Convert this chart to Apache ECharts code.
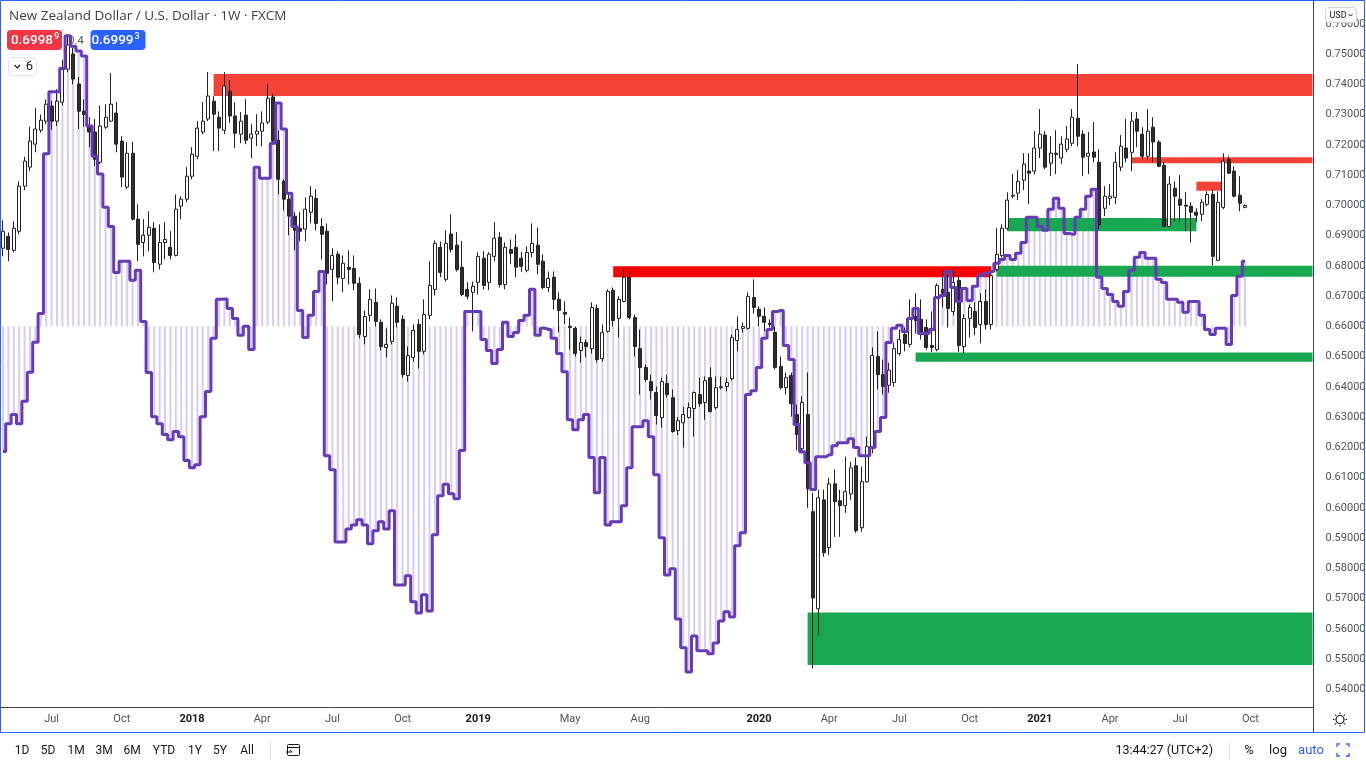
<!DOCTYPE html>
<html>
<head>
<meta charset="utf-8">
<script src="https://cdn.jsdelivr.net/npm/echarts@6/dist/echarts.min.js"></script>
<style>
html,body{margin:0;padding:0;background:#ffffff;}
#chart{width:1366px;height:768px;}
</style>
</head>
<body>
<div id="chart"></div>
<script>
// ---------- DATA ----------
const firstWeek = '2017-05-01';      // Monday of the first weekly bar
const weeksOnAxis = 243;             // bars + empty future weeks on the time scale

const open = [
.6858,.6897,.6851,.6914,.7063,.7126,.7202,.7248,.7278,.7328,
.7278,.7341,.7450,.7500,.7401,.7311,.7262,.7242,.7142,.7258,
.7278,.7305,.7212,.7060,.7172,.6954,.6877,.6901,.6924,.6805,
.6877,.6861,.6834,.6997,.7020,.7096,.7162,.7242,.7285,.7344,
.7291,.7248,.7377,.7295,.7235,.7298,.7222,.7235,.7245,.7275,
.7358,.7215,.7079,.7020,.6964,.6924,.6921,.6977,.7023,.6930,
.6914,.6788,.6838,.6758,.6795,.6791,.6742,.6566,.6636,.6679,
.6613,.6530,.6550,.6666,.6623,.6437,.6497,.6606,.6517,.6636,
.6722,.6861,.6755,.6905,.6868,.6795,.6722,.6712,.6745,.6825,
.6745,.6831,.6894,.6738,.6854,.6861,.6825,.6785,.6844,.6868,
.6815,.6728,.6762,.6689,.6646,.6600,.6593,.6520,.6546,.6526,
.6659,.6493,.6583,.6719,.6626,.6682,.6762,.6629,.6526,.6464,
.6417,.6381,.6298,.6411,.6364,.6255,.6281,.6298,.6328,.6374,
.6348,.6430,.6331,.6397,.6401,.6427,.6553,.6593,.6593,.6695,
.6656,.6633,.6610,.6580,.6467,.6397,.6437,.6308,.6195,.6308,
.5987,.5666,.6026,.5868,.6079,.6023,.6007,.6046,.6139,.5934,
.6086,.6200,.6500,.6440,.6405,.6414,.6510,.6573,.6540,.6632,
.6623,.6596,.6536,.6523,.6722,.6712,.6649,.6752,.6533,.6626,
.6649,.6606,.6682,.6606,.6788,.6834,.6924,.7030,.7040,.7083,
.7113,.7113,.7189,.7232,.7139,.7172,.7156,.7185,.7205,.7288,
.7235,.7162,.7176,.7142,.6990,.7023,.7026,.7126,.7189,.7175,
.7285,.7235,.7162,.7258,.7209,.7132,.6930,.7056,.7020,.7000,
.6997,.6977,.6970,.7003,.7036,.6818,.6993,.7152,.7113,.7033,
.6993];

const high = [
.6950,.6910,.6947,.7079,.7160,.7260,.7321,.7300,.7350,.7345,
.7384,.7480,.7558,.7520,.7424,.7350,.7291,.7285,.7330,.7334,
.7437,.7341,.7228,.7209,.7209,.7003,.6954,.6980,.6944,.6937,
.6944,.6914,.7036,.7030,.7126,.7192,.7278,.7341,.7440,.7361,
.7310,.7440,.7414,.7340,.7308,.7351,.7268,.7301,.7310,.7401,
.7369,.7248,.7086,.7043,.6977,.6977,.7026,.7063,.7053,.6957,
.6940,.6858,.6848,.6834,.6851,.6834,.6762,.6652,.6722,.6725,
.6623,.6593,.6702,.6695,.6636,.6533,.6606,.6623,.6689,.6815,
.6884,.6880,.6917,.6970,.6911,.6881,.6745,.6748,.6844,.6848,
.6845,.6944,.6911,.6877,.6887,.6904,.6845,.6864,.6940,.6927,
.6838,.6781,.6781,.6712,.6682,.6629,.6599,.6566,.6556,.6679,
.6672,.6606,.6722,.6728,.6699,.6795,.6781,.6639,.6589,.6474,
.6440,.6401,.6430,.6440,.6391,.6300,.6334,.6348,.6384,.6430,
.6434,.6464,.6434,.6434,.6430,.6573,.6632,.6613,.6712,.6755,
.6666,.6662,.6623,.6600,.6500,.6447,.6447,.6341,.6368,.6447,
.6050,.6060,.6060,.6099,.6126,.6060,.6169,.6152,.6166,.6136,
.6235,.6530,.6583,.6490,.6480,.6546,.6589,.6596,.6689,.6709,
.6689,.6623,.6649,.6742,.6785,.6768,.6795,.6775,.6640,.6672,
.6679,.6709,.6722,.6788,.6924,.6937,.7043,.7103,.7116,.7172,
.7172,.7245,.7318,.7245,.7228,.7248,.7228,.7262,.7318,.7467,
.7248,.7242,.7275,.7185,.7063,.7070,.7175,.7232,.7285,.7308,
.7308,.7258,.7318,.7291,.7215,.7142,.7096,.7079,.7100,.7043,
.7010,.6990,.7020,.7046,.7053,.7046,.7172,.7162,.7129,.7096,
.7003];

const low = [
.6831,.6815,.6844,.6904,.7050,.7113,.7175,.7240,.7268,.7250,
.7262,.7330,.7440,.7400,.7252,.7260,.7192,.7129,.7136,.7252,
.7275,.7175,.7060,.7053,.6950,.6815,.6831,.6848,.6778,.6788,
.6821,.6821,.6831,.6954,.7010,.7086,.7152,.7235,.7278,.7179,
.7179,.7235,.7272,.7189,.7205,.7202,.7156,.7195,.7195,.7268,
.7200,.7036,.6983,.6901,.6851,.6881,.6881,.6940,.6917,.6821,
.6738,.6682,.6738,.6712,.6738,.6719,.6560,.6540,.6616,.6599,
.6520,.6497,.6540,.6596,.6430,.6417,.6483,.6460,.6507,.6623,
.6702,.6762,.6748,.6844,.6781,.6699,.6689,.6583,.6705,.6722,
.6720,.6815,.6728,.6722,.6805,.6762,.6780,.6778,.6828,.6772,
.6722,.6712,.6656,.6580,.6606,.6523,.6500,.6480,.6497,.6510,
.6480,.6483,.6579,.6599,.6563,.6679,.6623,.6500,.6374,.6417,
.6358,.6275,.6265,.6364,.6248,.6240,.6199,.6295,.6235,.6334,
.6291,.6315,.6325,.6391,.6385,.6420,.6517,.6579,.6589,.6642,
.6600,.6583,.6596,.6457,.6391,.6374,.6301,.6190,.6180,.6000,
.5469,.5579,.5838,.5844,.5904,.5904,.5983,.6026,.5917,.5921,
.6083,.6180,.6391,.6374,.6380,.6400,.6503,.6517,.6530,.6576,
.6556,.6523,.6515,.6517,.6662,.6596,.6636,.6515,.6510,.6563,
.6570,.6543,.6589,.6589,.6781,.6828,.6917,.7023,.7017,.7050,
.7003,.7103,.7156,.7119,.7096,.7103,.7136,.7175,.7195,.7195,
.7096,.7103,.7142,.6920,.6964,.7000,.7003,.7113,.7142,.7113,
.7192,.7152,.7152,.7142,.7126,.6927,.6927,.6947,.6944,.6914,
.6877,.6944,.6947,.6997,.6801,.6815,.6987,.7103,.7026,.6980,
.6990];

const close = [
.6914,.6854,.6924,.7063,.7146,.7212,.7252,.7281,.7334,.7278,
.7344,.7450,.7530,.7417,.7311,.7300,.7242,.7152,.7262,.7291,
.7334,.7202,.7093,.7172,.6954,.6871,.6901,.6927,.6811,.6877,
.6887,.6834,.6987,.7020,.7096,.7169,.7255,.7278,.7361,.7301,
.7255,.7394,.7295,.7238,.7278,.7215,.7235,.7245,.7272,.7354,
.7212,.7086,.7020,.6964,.6917,.6914,.6987,.7030,.6940,.6904,
.6775,.6834,.6762,.6808,.6788,.6742,.6573,.6632,.6689,.6616,
.6533,.6540,.6676,.6613,.6440,.6503,.6586,.6517,.6639,.6735,
.6874,.6778,.6874,.6854,.6788,.6705,.6699,.6732,.6831,.6735,
.6838,.6891,.6738,.6861,.6841,.6795,.6798,.6844,.6874,.6805,
.6728,.6758,.6689,.6652,.6640,.6596,.6510,.6546,.6533,.6662,
.6490,.6579,.6715,.6619,.6689,.6762,.6629,.6533,.6464,.6424,
.6387,.6305,.6417,.6374,.6252,.6288,.6308,.6331,.6381,.6344,
.6420,.6318,.6397,.6400,.6414,.6563,.6589,.6599,.6699,.6662,
.6633,.6613,.6606,.6464,.6397,.6430,.6344,.6242,.6348,.6063,
.5702,.6033,.5851,.6079,.6020,.6007,.6053,.6132,.5924,.6086,
.6202,.6503,.6440,.6401,.6455,.6526,.6556,.6543,.6629,.6619,
.6576,.6530,.6530,.6735,.6709,.6659,.6745,.6536,.6626,.6662,
.6596,.6682,.6606,.6768,.6838,.6924,.7017,.7033,.7079,.7136,
.7106,.7189,.7235,.7126,.7172,.7168,.7202,.7219,.7291,.7228,
.7159,.7172,.7159,.6935,.7030,.7030,.7142,.7195,.7156,.7278,
.7245,.7162,.7245,.7209,.7129,.6930,.7070,.7030,.7000,.6997,
.6977,.6967,.7010,.7036,.6831,.7010,.7146,.7106,.7030,.7007,
.6999];

// purple stepped indicator, drawn on the price scale, with hatch to its base level
const oscillator = [
.6186,.6278,.6308,.6278,.6352,.6448,.6547,.6642,.7170,.7375,
.7375,.7452,.7560,.7526,.7510,.7493,.7262,.7162,.7103,.6993,
.6930,.6778,.6815,.6815,.6752,.6785,.6616,.6447,.6301,.6278,
.6242,.6225,.6252,.6235,.6156,.6132,.6142,.6301,.6384,.6560,
.6689,.6690,.6659,.6626,.6570,.6600,.6523,.7126,.7089,.7089,
.7205,.7338,.7252,.7040,.6930,.6652,.6563,.6636,.6715,.6781,
.6172,.6126,.5887,.5887,.5930,.5943,.5960,.5943,.5881,.5924,
.5954,.5930,.5990,.5745,.5745,.5775,.5689,.5652,.5712,.5659,
.5911,.6040,.6078,.6046,.6030,.6189,.6649,.6649,.6649,.6556,
.6520,.6477,.6523,.6613,.6566,.6579,.6619,.6636,.6722,.6570,
.6593,.6589,.6560,.6510,.6450,.6291,.6258,.6291,.6308,.6166,
.6050,.6166,.5943,.5954,.5954,.6007,.6132,.6268,.6268,.6288,
.6235,.6109,.5901,.5778,.5798,.5632,.5537,.5457,.5576,.5527,
.5527,.5517,.5553,.5626,.5656,.5639,.5874,.5917,.6374,.6387,
.6464,.6560,.6589,.6649,.6652,.6536,.6490,.6275,.6185,.6149,
.6060,.6169,.6169,.6175,.6205,.6215,.6215,.6228,.6199,.6172,
.6172,.6199,.6252,.6298,.6546,.6593,.6603,.6583,.6626,.6659,
.6576,.6576,.6589,.6695,.6702,.6781,.6728,.6682,.6725,.6685,
.6732,.6768,.6775,.6781,.6808,.6821,.6834,.6821,.6841,.6877,
.6960,.6960,.6930,.6917,.6987,.7023,.6990,.6907,.6904,.6960,
.6987,.7030,.7053,.6762,.6725,.6705,.6682,.6666,.6715,.6785,
.6828,.6844,.6825,.6825,.6755,.6745,.6689,.6689,.6679,.6646,
.6682,.6682,.6636,.6589,.6573,.6593,.6593,.6540,.6702,.6765,
.6815];
const oscillatorBase = 0.66;

const tickLabels = [
['2017-07-03','Jul'],['2017-10-02','Oct'],['2018-01-01','2018'],['2018-04-02','Apr'],
['2018-07-02','Jul'],['2018-10-01','Oct'],['2019-01-07','2019'],['2019-05-06','May'],
['2019-08-05','Aug'],['2020-01-06','2020'],['2020-04-06','Apr'],['2020-07-06','Jul'],
['2020-10-05','Oct'],['2021-01-04','2021'],['2021-04-05','Apr'],['2021-07-05','Jul'],
['2021-10-04','Oct']];

const priceMin = 0.53, priceMax = 0.77, priceStep = 0.01;

// zones: from-week, to-week (null = extends to the right edge), low, high
const resistanceZones = [
  ['2018-01-29', null, 0.7361, 0.7434],
  ['2021-05-03', null, 0.7139, 0.7159],
  ['2021-07-26', '2021-08-30', 0.7048, 0.7078]
];
const keyResistanceZones = [
  ['2019-07-01', '2020-11-02', 0.6762, 0.6798]
];
const supportZones = [
  ['2020-11-23', '2021-07-26', 0.6914, 0.6958],
  ['2020-11-09', null, 0.6764, 0.6800],
  ['2020-07-27', null, 0.6483, 0.6513],
  ['2020-03-09', null, 0.5480, 0.5654]
];

// ---------- BUILD ----------
const categories = [];
{
  const p = firstWeek.split('-').map(Number);
  const t0 = Date.UTC(p[0], p[1]-1, p[2]);
  for (let i = 0; i < weeksOnAxis; i++) {
    categories.push(new Date(t0 + i*7*86400000).toISOString().slice(0,10));
  }
}
const labelMap = {};
tickLabels.forEach(t => { labelMap[t[0]] = t[1]; });

const candleData = open.map((o,i) => [o, close[i], low[i], high[i]]);
const hatchData = oscillator.map((v,i) => [i, v]);

function zoneRows(list){
  return list.map(z => [categories.indexOf(z[0]), z[1] ? categories.indexOf(z[1]) : -1, z[2], z[3]]);
}
function zoneSeries(list, color){
  return {
    type:'custom', z:2, silent:true, clip:false,
    encode:{x:0, y:2},
    data: zoneRows(list),
    renderItem: function(params, api){
      const s = api.value(0), e = api.value(1), lo = api.value(2), hi = api.value(3);
      const a = api.coord([s, hi]);
      const b = api.coord([e < 0 ? s : e, lo]);
      const cs = params.coordSys;
      const x1 = e < 0 ? cs.x + cs.width : b[0];
      return {type:'rect', shape:{x:a[0], y:a[1], width:x1-a[0], height:b[1]-a[1]}, style:{fill:color}};
    }
  };
}

const axisFont = "'Liberation Sans Narrow', Roboto, sans-serif";
const uiFont = "Roboto, 'Liberation Sans', sans-serif";
const titleFont = "'Open Sans', Roboto, sans-serif";

const chart = echarts.init(document.getElementById('chart'), null, {renderer:'canvas'});

const G = [];
// frame and separators
G.push({type:'rect', z:100, shape:{x:0.5,y:0.5,width:1364,height:732}, style:{fill:'none', stroke:'#2962ff', lineWidth:1}});
G.push({type:'line', z:100, shape:{x1:1313.5,y1:0,x2:1313.5,y2:732}, style:{stroke:'#434651', lineWidth:1}});
G.push({type:'line', z:100, shape:{x1:0,y1:707.5,x2:1313.5,y2:707.5}, style:{stroke:'#434651', lineWidth:1}});
// title
G.push({type:'text', z:100, style:{text:'New Zealand Dollar / U.S. Dollar · 1W · FXCM', x:9, y:16, verticalAlign:'middle', fill:'#3b3e47', font:'13.5px '+titleFont}});
// sell / buy buttons
G.push({type:'rect', z:100, shape:{x:7,y:30,width:55,height:20,r:4}, style:{fill:'#f23645'}});
G.push({type:'text', z:101, style:{text:'0.6998', x:53, y:40.5, align:'right', verticalAlign:'middle', fill:'#ffffff', font:'500 13.5px '+uiFont}});
G.push({type:'text', z:101, style:{text:'9', x:54, y:37, align:'left', verticalAlign:'middle', fill:'#ffffff', font:'500 9px '+uiFont}});
G.push({type:'text', z:101, style:{text:'0.4', x:76, y:41, align:'center', verticalAlign:'middle', fill:'#50535e', font:'11px '+uiFont}});
G.push({type:'rect', z:100, shape:{x:90.5,y:30,width:55,height:20,r:4}, style:{fill:'#2962ff'}});
G.push({type:'text', z:101, style:{text:'0.6999', x:133.5, y:40.5, align:'right', verticalAlign:'middle', fill:'#ffffff', font:'500 13.5px '+uiFont}});
G.push({type:'text', z:101, style:{text:'3', x:134.5, y:37, align:'left', verticalAlign:'middle', fill:'#ffffff', font:'500 9px '+uiFont}});
// collapse box "v 6"
G.push({type:'rect', z:100, shape:{x:8.5,y:57.5,width:28,height:18,r:3}, style:{fill:'#ffffff', stroke:'#e0e3eb', lineWidth:1}});
G.push({type:'polyline', z:101, shape:{points:[[14.5,65],[17.3,67.8],[20.1,65]]}, style:{stroke:'#131722', lineWidth:1.2, fill:'none'}});
G.push({type:'text', z:101, style:{text:'6', x:29.3, y:66.5, align:'center', verticalAlign:'middle', fill:'#131722', font:'13px '+uiFont}});
// USD button
G.push({type:'rect', z:100, shape:{x:1325.5,y:7.5,width:31,height:15,r:3}, style:{fill:'#ffffff', stroke:'#d1d4dc', lineWidth:1}});
G.push({type:'text', z:101, style:{text:'USD', x:1338, y:15.5, align:'center', verticalAlign:'middle', fill:'#131722', font:'9px '+uiFont}});
G.push({type:'polyline', z:101, shape:{points:[[1348.5,14],[1350.5,16],[1352.5,14]]}, style:{stroke:'#131722', lineWidth:1, fill:'none'}});
// settings icon (bottom right)
G.push({type:'circle', z:101, shape:{cx:1340,cy:719.5,r:4}, style:{fill:'none', stroke:'#131722', lineWidth:1.2}});
for (let a = 0; a < 8; a++) {
  const ang = a*Math.PI/4;
  G.push({type:'line', z:101, shape:{x1:1340+Math.cos(ang)*5.5, y1:719.5+Math.sin(ang)*5.5, x2:1340+Math.cos(ang)*7, y2:719.5+Math.sin(ang)*7}, style:{stroke:'#131722', lineWidth:1.2}});
}
// bottom toolbar
const toolbarLeft = [['1D',22],['5D',48],['1M',76],['3M',104],['6M',132],['YTD',164],['1Y',195],['5Y',220],['All',247]];
toolbarLeft.forEach(t => G.push({type:'text', z:100, style:{text:t[0], x:t[1], y:750.5, align:'center', verticalAlign:'middle', fill:'#131722', font:'12px '+uiFont}}));
G.push({type:'line', z:100, shape:{x1:270.5,y1:741,x2:270.5,y2:760}, style:{stroke:'#e0e3eb', lineWidth:1}});
G.push({type:'rect', z:100, shape:{x:287.5,y:744.5,width:12,height:11,r:1}, style:{fill:'none', stroke:'#131722', lineWidth:1}});
G.push({type:'line', z:100, shape:{x1:287.5,y1:747.5,x2:299.5,y2:747.5}, style:{stroke:'#131722', lineWidth:1}});
G.push({type:'polyline', z:100, shape:{points:[[286,752],[292,752],[290,750]]}, style:{stroke:'#131722', lineWidth:1, fill:'none'}});
G.push({type:'text', z:100, style:{text:'13:44:27 (UTC+2)', x:1213, y:750.5, align:'right', verticalAlign:'middle', fill:'#131722', font:'12.5px '+uiFont}});
G.push({type:'line', z:100, shape:{x1:1229.5,y1:741,x2:1229.5,y2:760}, style:{stroke:'#e0e3eb', lineWidth:1}});
G.push({type:'text', z:100, style:{text:'%', x:1249, y:750.5, align:'center', verticalAlign:'middle', fill:'#131722', font:'13px '+uiFont}});
G.push({type:'text', z:100, style:{text:'log', x:1278, y:750.5, align:'center', verticalAlign:'middle', fill:'#131722', font:'13px '+uiFont}});
G.push({type:'text', z:100, style:{text:'auto', x:1311, y:750.5, align:'center', verticalAlign:'middle', fill:'#2962ff', font:'13px '+uiFont}});
[[[1337,747],[1337,744],[1340,744]],[[1346,744],[1349,744],[1349,747]],[[1349,753],[1349,756],[1346,756]],[[1340,756],[1337,756],[1337,753]]].forEach(p =>
  G.push({type:'polyline', z:100, shape:{points:p}, style:{stroke:'#2962ff', lineWidth:1.3, fill:'none'}}));

const option = {
  animation:false,
  backgroundColor:'#ffffff',
  textStyle:{fontFamily: axisFont},
  grid:{left:0.3, right:53.5, top:-6.5, bottom:48.5, containLabel:false, outerBoundsMode:'none'},
  xAxis:{
    type:'category', data:categories, boundaryGap:true,
    axisLine:{show:false}, axisTick:{show:false}, splitLine:{show:false},
    axisLabel:{
      interval:function(idx, val){ return labelMap[val] !== undefined; },
      formatter:function(val){ const l = labelMap[val]; return /^\d{4}$/.test(l) ? '{y|'+l+'}' : '{m|'+l+'}'; },
      margin:0, verticalAlign:'middle',
      rich:{
        y:{fontSize:11, fontWeight:'bold', color:'#131722', fontFamily:axisFont},
        m:{fontSize:11, color:'#50535e', fontFamily:axisFont}
      }
    }
  },
  yAxis:{
    type:'value', position:'right', min:priceMin, max:priceMax, interval:priceStep, scale:true,
    axisLine:{show:false}, axisTick:{show:false}, splitLine:{show:false},
    axisLabel:{
      showMinLabel:false, showMaxLabel:false, margin:13,
      formatter:function(v){ return v.toFixed(5); },
      color:'#50535e', fontSize:11, fontFamily:axisFont, padding:[2,0,0,0]
    }
  },
  graphic:G,
  series:[
    {
      type:'custom', z:1, silent:true, clip:true,
      data:hatchData,
      encode:{x:0, y:1},
      renderItem:function(params, api){
        const i = api.value(0), v = api.value(1);
        const top = api.coord([i, v]);
        const base = api.coord([i, oscillatorBase]);
        return {type:'rect', shape:{x:top[0]-1, y:Math.min(top[1], base[1]), width:2, height:Math.abs(base[1]-top[1])}, style:{fill:'#d9cdee'}};
      }
    },
    zoneSeries(resistanceZones, '#f44336'),
    zoneSeries(keyResistanceZones, '#ff0000'),
    zoneSeries(supportZones, '#17a851'),
    {
      type:'candlestick', z:3, data:candleData, barWidth:3.6, silent:true,
      itemStyle:{color:'#ffffff', color0:'#2e2e2e', borderColor:'#222222', borderColor0:'#222222', borderWidth:1}
    },
    {
      type:'line', z:4, data:oscillator, step:'middle', showSymbol:false, symbol:'none', silent:true,
      lineStyle:{color:'#673ab7', width:3}
    }
  ]
};
chart.setOption(option);
</script>
</body>
</html>
